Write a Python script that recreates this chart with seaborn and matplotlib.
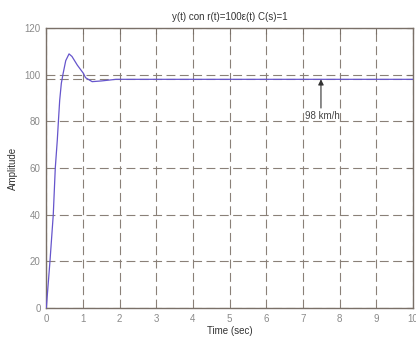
import matplotlib
matplotlib.use("Agg")
import matplotlib.pyplot as plt
import seaborn as sns
import pandas as pd

# data
t = [0, 0.1, 0.19, 0.245, 0.30, 0.33, 0.365, 0.41, 0.46, 0.53, 0.62, 0.7, 0.845, 1.01, 1.07, 1.25, 1.5, 1.9, 2.5, 10]
y = [0, 20, 40, 60, 72, 80, 89, 96.3, 100.6, 106, 108.9, 107.8, 104.1, 100.6, 98.7, 97, 97.3, 98, 98, 98]
final_value = 98
xticks = list(range(0, 11))
yticks = [0, 20, 40, 60, 80, 100, 120]
title = "y(t) con r(t)=100ε(t) C(s)=1"
xlabel = "Time (sec)"
ylabel = "Amplitude"
annot_text = "98 km/h"

sns.set_style("white")
plt.rcParams['font.family'] = ['Liberation Sans', 'DejaVu Sans']

df = pd.DataFrame({"t": t, "y": y})
fig = plt.figure(figsize=(4.16, 3.38), dpi=100)
ax = fig.add_axes([0.1113, 0.0888, 0.8815, 0.8284])

spine_c = "#7a7068"
grid_c = "#8a8078"
dash = (0, (8, 4))
ax.set_xlim(0, 10)
ax.set_ylim(0, 120)
ax.set_xticks(xticks)
ax.set_yticks(yticks)
ax.grid(True, linestyle=dash, color=grid_c, linewidth=0.8)
ax.axhline(final_value, color=grid_c, linestyle=dash, linewidth=0.8, zorder=1)
sns.lineplot(data=df, x="t", y="y", ax=ax, color="#6655cc", linewidth=0.9, zorder=3)

for s in ax.spines.values():
    s.set_color(spine_c)
    s.set_linewidth(1.0)
ax.tick_params(direction="in", length=4, width=0.8, color=spine_c, labelcolor="#8a8a8a",
               labelsize=7, top=True, right=True, pad=4)
ax.set_title(title, fontsize=7, color="#333333", pad=6)
ax.set_xlabel(xlabel, fontsize=7, color="#333333", labelpad=2)
ax.set_ylabel(ylabel, fontsize=7, color="#333333", labelpad=5)

ax.annotate("", xy=(7.49, final_value), xytext=(7.49, 85.7),
            arrowprops=dict(arrowstyle="-|>", color="#333333", lw=0.8,
                            shrinkA=0, shrinkB=0, mutation_scale=8))
ax.text(7.06, 82.3, annot_text, fontsize=7, color="#444444", va="center", ha="left")

fig.savefig("out.png", dpi=100)
